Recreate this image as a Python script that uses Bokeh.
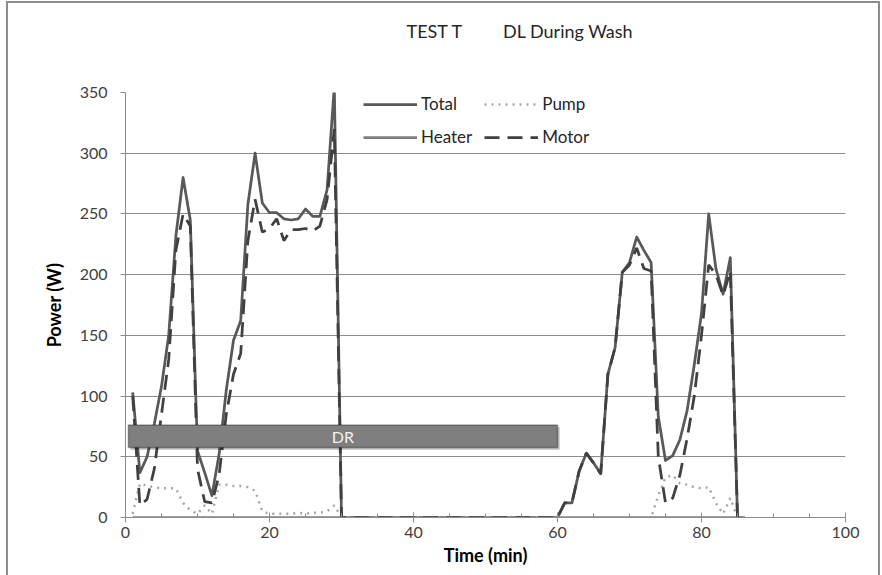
from bokeh.plotting import figure
from bokeh.models import (Range1d, BoxAnnotation, Label, Legend, LegendItem, Title,
                          SingleIntervalTicker, FixedTicker)
from bokeh.embed import file_html
from bokeh.resources import INLINE

# ---------------- data ----------------
time_min = list(range(1, 87))

total_w = [103, 37, 50, 77, 108, 150, 232, 280, 245, 55,
           37, 18, 52, 105, 146, 162, 258, 300, 259, 251,
           251, 246, 245, 246, 254, 248, 248, 270, 355, 0,
           0, 0, 0, 0, 0, 0, 0, 0, 0, 0,
           0, 0, 0, 0, 0, 0, 0, 0, 0, 0,
           0, 0, 0, 0, 0, 0, 0, 0, 0, 0,
           12, 12, 38, 53, 45, 36, 118, 140, 202, 210,
           231, 220, 210, 83, 47, 51, 64, 88, 126, 168,
           250, 205, 184, 214, 0, 0]

heater_w = [0, 0, 0, 0, 0, 0, 0, 0, 0, 0,
            0, 0, 0, 0, 0, 0, 0, 0, 0, 0,
            0, 0, 0, 0, 0, 0, 0, 0, 0, 0,
            0, 0, 0, 0, 0, 0, 0, 0, 0, 0,
            0, 0, 0, 0, 0, 0, 0, 0, 0, 0,
            0, 0, 0, 0, 0, 0, 0, 0, 0, 0,
            0, 0, 0, 0, 0, 0, 0, 0, 0, 0,
            0, 0, 0, 0, 0, 0, 0, 0, 0, 0,
            0, 0, 0, 0, 0, 0]

pump_w = [3, 28, 26, 25, 24, 24, 24, 12, 6, 3,
          10, 3, 27, 27, 26, 26, 25, 22, 5, 3,
          3, 3, 3, 4, 3, 4, 4, 5, 10, 0,
          0, 0, 0, 0, 0, 0, 0, 0, 0, 0,
          0, 0, 0, 0, 0, 0, 0, 0, 0, 0,
          0, 0, 0, 0, 0, 0, 0, 0, 0, 0,
          0, 0, 0, 0, 0, 0, 0, 0, 0, 0,
          0, 0, 0, 18, 33, 35, 28, 27, 25, 24,
          25, 12, 3, 16, 0, 0]

motor_w = [100, 10, 15, 40, 85, 130, 220, 250, 240, 40,
           13, 12, 35, 85, 118, 135, 228, 262, 235, 238,
           246, 228, 237, 237, 238, 236, 240, 262, 320, 0,
           0, 0, 0, 0, 0, 0, 0, 0, 0, 0,
           0, 0, 0, 0, 0, 0, 0, 0, 0, 0,
           0, 0, 0, 0, 0, 0, 0, 0, 0, 0,
           12, 12, 38, 53, 45, 36, 118, 140, 202, 208,
           222, 205, 203, 50, 12, 16, 35, 65, 100, 150,
           208, 200, 183, 203, 0, 0]

y_ticks = [0, 50, 100, 150, 200, 250, 300, 350]

title_left = "TEST T"
title_right = "DL During Wash"
x_label = "Time (min)"
y_label = "Power (W)"
dr_text = "DR"
dr_start, dr_end = 0.4, 60.0
dr_low, dr_high = 57.6, 76.1

FONT = "Lato"
GRID = "#8c8c8c"
NBSP = "\u00a0"

# ---------------- figure ----------------
p = figure(width=870, height=572, x_range=Range1d(0, 100), y_range=Range1d(0, 350),
           output_backend="svg", toolbar_location=None,
           min_border_left=117, min_border_right=33, min_border_top=89, min_border_bottom=58)
p.margin = (3, 4, 0, 8)
p.styles = {"outline": "2px solid #8c8c8c"}
p.outline_line_color = None
p.background_fill_color = "white"
p.border_fill_color = "white"

# invisible spacer panel between the title and the plot area
p.add_layout(Title(text=NBSP, text_font_size="10px", text_color="white", standoff=38), "above")

# title (two parts separated by a wide gap)
p.title.text = title_left + NBSP * 9 + title_right
p.title.align = "left"
p.title.offset = 281
p.title.standoff = 0
p.title.text_font = FONT
p.title.text_font_size = "18px"
p.title.text_font_style = "normal"
p.title.text_color = "#262626"

# axes
xa = p.xaxis[0]
xa.ticker = SingleIntervalTicker(interval=20, num_minor_ticks=4)
xa.axis_label = x_label
xa.major_tick_in = 5
xa.major_tick_out = 5
xa.minor_tick_in = 4
xa.minor_tick_out = 0
xa.major_label_standoff = 4
xa.axis_label_standoff = 3
xa.minor_tick_line_color = GRID

ya = p.yaxis[0]
ya.ticker = FixedTicker(ticks=y_ticks)
ya.axis_label = y_label
ya.major_tick_in = 0
ya.major_tick_out = 5
ya.minor_tick_line_color = None
ya.major_label_standoff = 13
ya.axis_label_standoff = 12

for ax in (xa, ya):
    ax.axis_line_color = GRID
    ax.major_tick_line_color = GRID
    ax.major_label_text_font = FONT
    ax.major_label_text_font_size = "16px"
    ax.major_label_text_color = "#404040"
    ax.axis_label_text_font = FONT
    ax.axis_label_text_font_size = "18px"
    ax.axis_label_text_font_style = "bold"
    ax.axis_label_text_color = "#000000"

p.xgrid.visible = False
p.ygrid.ticker = FixedTicker(ticks=y_ticks)
p.ygrid.grid_line_color = GRID
p.ygrid.grid_line_width = 1

# series
r_total = p.line(time_min, total_w, line_color="#595959", line_width=2.75, line_join="round")
r_heater = p.line(time_min, heater_w, line_color="#7f7f7f", line_width=2.75, line_join="round")
r_pump = p.line(time_min, pump_w, line_color="#a6a6a6", line_width=2.5, line_dash="2 5")
r_motor = p.line(time_min, motor_w, line_color="#404040", line_width=2.75, line_dash="15 8")

legend = Legend(items=[LegendItem(label="Total", renderers=[r_total]),
                       LegendItem(label="Heater", renderers=[r_heater]),
                       LegendItem(label="Pump", renderers=[r_pump]),
                       LegendItem(label="Motor", renderers=[r_motor])],
                location=(238, 370), orientation="vertical", ncols=2,
                glyph_width=54, glyph_height=20, label_height=20, label_standoff=4,
                spacing=12, padding=0, margin=0,
                border_line_color=None, background_fill_alpha=0,
                label_text_font=FONT, label_text_font_size="17px",
                label_text_color="#262626")
p.add_layout(legend)

# DR bar with shadow
p.add_layout(BoxAnnotation(left=dr_start + 0.3, right=dr_end + 0.3,
                           bottom=dr_low - 1.8, top=dr_high - 1.8,
                           fill_color="#000000", fill_alpha=0.25, line_color=None))
p.add_layout(BoxAnnotation(left=dr_start, right=dr_end, bottom=dr_low, top=dr_high,
                           fill_color="#7f7f7f", fill_alpha=1.0,
                           line_color="#000000", line_width=1.5))
p.add_layout(Label(x=(dr_start + dr_end) / 2, y=(dr_low + dr_high) / 2, text=dr_text,
                   text_align="center", text_baseline="middle", text_color="#f2f2f2",
                   text_font=FONT, text_font_size="16px"))

open("out.html", "w").write(file_html(p, INLINE))
